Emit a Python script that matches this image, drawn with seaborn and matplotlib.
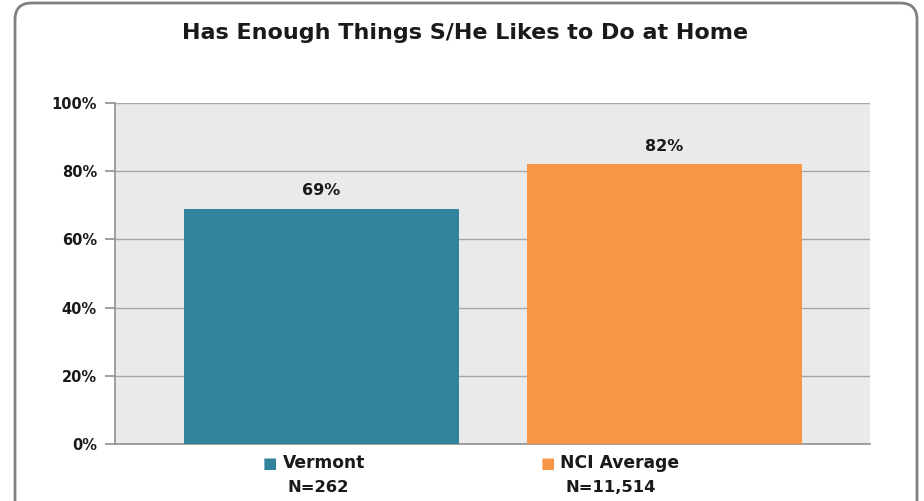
import matplotlib
matplotlib.use("Agg")
import matplotlib.pyplot as plt
import seaborn as sns
import pandas as pd
from matplotlib.patches import FancyBboxPatch

title = "Has Enough Things S/He Likes to Do at Home"
categories = ["Vermont", "NCI Average"]
values = [69, 82]
n_labels = ["N=262", "N=11,514"]
colors = ["#31849B", "#F79646"]
yticks = [0, 20, 40, 60, 80, 100]

sns.set_theme(style="white")
plt.rcParams['font.family'] = ['DejaVu Sans']

fig = plt.figure(figsize=(9.24, 5.01), dpi=100)
ax = fig.add_axes([115/924, 1-444/501, 755/924, 341/501])

df = pd.DataFrame({"cat": categories, "val": values})
sns.barplot(data=df, x="cat", y="val", hue="cat", palette=colors, width=0.8,
            legend=False, ax=ax, saturation=1, zorder=3, linewidth=0, edgecolor="none")

ax.set_facecolor("#EAEAEA")
ax.set_xlim(-0.602, 1.599)
ax.set_ylim(0, 100)
ax.set_yticks(yticks)
ax.set_yticklabels([f"{t}%" for t in yticks], fontsize=10.5, fontweight="bold", color="#1a1a1a")
ax.set_xticks([])
ax.set_xlabel("")
ax.set_ylabel("")
ax.grid(axis="y", color="#A6A6A6", linewidth=1.0, zorder=0)
ax.set_axisbelow(True)
for s in ["top", "right"]:
    ax.spines[s].set_visible(False)
for s in ["left", "bottom"]:
    ax.spines[s].set_color("#909090")
    ax.spines[s].set_linewidth(1.2)
ax.tick_params(axis="y", which="both", left=True, length=7, width=1.2, color="#909090", pad=6)

for i, v in enumerate(values):
    ax.annotate(f"{v}%", (i, v), xytext=(0, 7.5), textcoords="offset points",
                ha="center", va="bottom", fontsize=11.5, fontweight="bold", color="#1a1a1a")

# category labels with colored squares
label_pos = [(270/924, 283/924, 318/924), (548/924, 560/924, 611/924)]
for (sqx, tx, nx), cat, n, c in zip(label_pos, categories, n_labels, colors):
    fig.text(sqx, 1-463/501, "■", color=c, fontsize=11, ha="center", va="center")
    fig.text(tx, 1-463/501, cat, fontsize=12.3, fontweight="bold", ha="left", va="center", color="#1a1a1a")
    fig.text(nx, 1-487/501, n, fontsize=11.8, fontweight="bold", ha="center", va="center", color="#1a1a1a")

fig.text(465/924, 1-33/501, title, fontsize=16, fontweight="bold", ha="center", va="center", color="#1a1a1a")

border = FancyBboxPatch((15/924, -0.05), (917-15)/924, 1-3/501+0.05,
                        boxstyle="round,pad=0,rounding_size=0.018", transform=fig.transFigure,
                        fill=False, edgecolor="#808080", linewidth=2, mutation_aspect=924/501)
fig.patches.append(border)

fig.savefig("out.png", dpi=100)
